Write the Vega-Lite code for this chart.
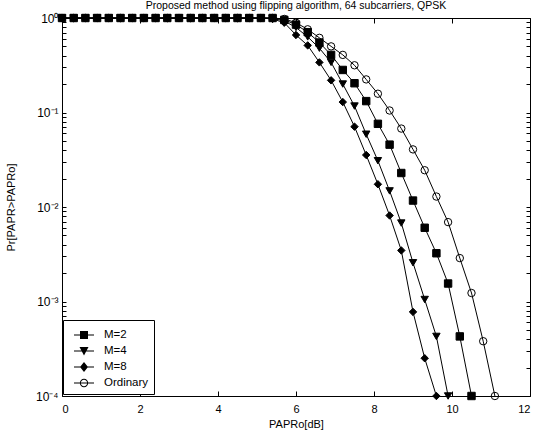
{
 "$schema": "https://vega.github.io/schema/vega-lite/v6.json",
 "width": 468,
 "height": 378,
 "autosize": "none",
 "padding": {"left": 62, "top": 18, "right": 6, "bottom": 40},
 "background": "white",
 "config": {
  "font": "Liberation Sans",
  "view": {"stroke": "black", "strokeWidth": 1},
  "axis": {"grid": false, "domain": false, "tickColor": "black", "labelColor": "black", "titleColor": "black", "labelFontSize": 11, "titleFontSize": 11, "titleFontWeight": "normal", "labelFont": "Liberation Sans", "titleFont": "Liberation Sans"}
 },
 "title": {"text": "Proposed method using flipping algorithm, 64 subcarriers, QPSK", "fontSize": 10.5, "fontWeight": "normal", "color": "black", "offset": 1, "font": "Liberation Sans"},
 "data": {"values": [
  {"x": 0, "M=2": 1, "M=4": 1, "M=8": 1, "Ordinary": 1},
  {"x": 0.3, "M=2": 1, "M=4": 1, "M=8": 1, "Ordinary": 1},
  {"x": 0.6, "M=2": 1, "M=4": 1, "M=8": 1, "Ordinary": 1},
  {"x": 0.9, "M=2": 1, "M=4": 1, "M=8": 1, "Ordinary": 1},
  {"x": 1.2, "M=2": 1, "M=4": 1, "M=8": 1, "Ordinary": 1},
  {"x": 1.5, "M=2": 1, "M=4": 1, "M=8": 1, "Ordinary": 1},
  {"x": 1.8, "M=2": 1, "M=4": 1, "M=8": 1, "Ordinary": 1},
  {"x": 2.1, "M=2": 1, "M=4": 1, "M=8": 1, "Ordinary": 1},
  {"x": 2.4, "M=2": 1, "M=4": 1, "M=8": 1, "Ordinary": 1},
  {"x": 2.7, "M=2": 1, "M=4": 1, "M=8": 1, "Ordinary": 1},
  {"x": 3.0, "M=2": 1, "M=4": 1, "M=8": 1, "Ordinary": 1},
  {"x": 3.3, "M=2": 1, "M=4": 1, "M=8": 1, "Ordinary": 1},
  {"x": 3.6, "M=2": 1, "M=4": 1, "M=8": 1, "Ordinary": 1},
  {"x": 3.9, "M=2": 1, "M=4": 1, "M=8": 1, "Ordinary": 1},
  {"x": 4.2, "M=2": 1, "M=4": 1, "M=8": 1, "Ordinary": 1},
  {"x": 4.5, "M=2": 1, "M=4": 1, "M=8": 1, "Ordinary": 1},
  {"x": 4.8, "M=2": 1, "M=4": 1, "M=8": 1, "Ordinary": 1},
  {"x": 5.1, "M=2": 1, "M=4": 1, "M=8": 1, "Ordinary": 1},
  {"x": 5.4, "M=2": 1, "M=4": 0.99, "M=8": 0.977, "Ordinary": 1},
  {"x": 5.7, "M=2": 0.955, "M=4": 0.93, "M=8": 0.891, "Ordinary": 0.977},
  {"x": 6.0, "M=2": 0.851, "M=4": 0.794, "M=8": 0.661, "Ordinary": 0.891},
  {"x": 6.3, "M=2": 0.708, "M=4": 0.631, "M=8": 0.513, "Ordinary": 0.759},
  {"x": 6.6, "M=2": 0.55, "M=4": 0.479, "M=8": 0.339, "Ordinary": 0.617},
  {"x": 6.9, "M=2": 0.407, "M=4": 0.339, "M=8": 0.219, "Ordinary": 0.501},
  {"x": 7.2, "M=2": 0.282, "M=4": 0.2, "M=8": 0.129, "Ordinary": 0.407},
  {"x": 7.5, "M=2": 0.204, "M=4": 0.117, "M=8": 0.0708, "Ordinary": 0.316},
  {"x": 7.8, "M=2": 0.132, "M=4": 0.0589, "M=8": 0.0355, "Ordinary": 0.224},
  {"x": 8.1, "M=2": 0.0759, "M=4": 0.0309, "M=8": 0.0174, "Ordinary": 0.158},
  {"x": 8.4, "M=2": 0.0457, "M=4": 0.0148, "M=8": 0.00813, "Ordinary": 0.105},
  {"x": 8.7, "M=2": 0.0229, "M=4": 0.00676, "M=8": 0.00347, "Ordinary": 0.0676},
  {"x": 9.0, "M=2": 0.0117, "M=4": 0.00257, "M=8": 0.000776, "Ordinary": 0.0407},
  {"x": 9.3, "M=2": 0.00603, "M=4": 0.00105, "M=8": 0.000251, "Ordinary": 0.0245},
  {"x": 9.6, "M=2": 0.00324, "M=4": 0.000427, "M=8": 0.0001, "Ordinary": 0.0129},
  {"x": 9.9, "M=2": 0.00155, "M=4": 0.0001, "Ordinary": 0.00692},
  {"x": 10.2, "M=2": 0.000427, "Ordinary": 0.00288},
  {"x": 10.5, "M=2": 0.0001, "Ordinary": 0.00123},
  {"x": 10.8, "Ordinary": 0.00038},
  {"x": 11.1, "Ordinary": 0.0001}
 ]},
 "transform": [
  {"fold": ["M=2", "M=4", "M=8", "Ordinary"], "as": ["series", "p"]},
  {"filter": "isValid(datum.p)"}
 ],
 "layer": [
  {
   "mark": {"type": "line", "color": "black", "strokeWidth": 1, "clip": false},
   "encoding": {
    "x": {"field": "x", "type": "quantitative", "scale": {"domain": [0, 12], "nice": false},
     "axis": {"orient": "bottom", "values": [0, 2, 4, 6, 8, 10, 12], "tickSize": -5, "labelPadding": 12, "title": "PAPRo[dB]", "titlePadding": 4}},
    "y": {"field": "p", "type": "quantitative", "scale": {"type": "log", "domain": [0.0001, 1], "nice": false},
     "axis": {"orient": "left", "values": [0.0001, 0.0002, 0.0003, 0.0004, 0.0005, 0.0006, 0.0007, 0.0008, 0.0009, 0.001, 0.002, 0.003, 0.004, 0.005, 0.006, 0.007, 0.008, 0.009, 0.01, 0.02, 0.03, 0.04, 0.05, 0.06, 0.07, 0.08, 0.09, 0.1, 0.2, 0.3, 0.4, 0.5, 0.6, 0.7, 0.8, 0.9, 1],
      "labelExpr": "datum.value == 1 ? '10⁰' : datum.value == 0.1 ? '10⁻¹' : datum.value == 0.01 ? '10⁻²' : datum.value == 0.001 ? '10⁻³' : datum.value == 0.0001 ? '10⁻⁴' : ''",
      "tickSize": -4, "labelPadding": 8, "labelBound": false, "labelOverlap": false, "labelFontSize": 12, "title": "Pr[PAPR>PAPRo]", "titlePadding": 19}},
    "detail": {"field": "series"}
   }
  },
  {
   "mark": {"type": "point", "filled": true, "stroke": "black", "strokeWidth": 1, "opacity": 1, "size": 55, "clip": false},
   "encoding": {
    "x": {"field": "x", "type": "quantitative", "axis": {"orient": "top", "values": [0, 2, 4, 6, 8, 10, 12], "tickSize": -5, "labels": false, "title": null}},
    "y": {"field": "p", "type": "quantitative", "axis": {"orient": "right", "values": [0.0001, 0.0002, 0.0003, 0.0004, 0.0005, 0.0006, 0.0007, 0.0008, 0.0009, 0.001, 0.002, 0.003, 0.004, 0.005, 0.006, 0.007, 0.008, 0.009, 0.01, 0.02, 0.03, 0.04, 0.05, 0.06, 0.07, 0.08, 0.09, 0.1, 0.2, 0.3, 0.4, 0.5, 0.6, 0.7, 0.8, 0.9, 1], "tickSize": -4, "labels": false, "title": null}},
    "shape": {"field": "series", "type": "nominal", "scale": {"domain": ["M=2", "M=4", "M=8", "Ordinary"], "range": ["square", "triangle-down", "diamond", "circle"]}, "legend": null},
    "fill": {"field": "series", "type": "nominal", "scale": {"domain": ["M=2", "M=4", "M=8", "Ordinary"], "range": ["black", "black", "black", "transparent"]}, "legend": null}
   }
  },
  {
   "transform": [{"filter": "datum.x < 0"}],
   "mark": {"type": "point", "filled": true, "color": "black", "strokeWidth": 0},
   "encoding": {
    "x": {"field": "x", "type": "quantitative", "axis": null},
    "y": {"field": "p", "type": "quantitative", "axis": null},
    "shape": {"field": "series", "type": "nominal",
     "scale": {"domain": ["M=2", "M=4", "M=8", "Ordinary"], "range": [
      "M-1,-0.05H1V0.05H-1ZM-0.4,-0.4H0.4V0.4H-0.4Z",
      "M-1,-0.05H1V0.05H-1ZM-0.45,-0.4H0.45L0,0.45Z",
      "M-1,-0.05H1V0.05H-1ZM0,-0.5L0.4,0L0,0.5L-0.4,0Z",
      "M-1,-0.05H1V0.05H-1ZM0.42,0L0.388,0.161L0.297,0.297L0.161,0.388L0,0.42L-0.161,0.388L-0.297,0.297L-0.388,0.161L-0.42,0L-0.388,-0.161L-0.297,-0.297L-0.161,-0.388L0,-0.42L0.161,-0.388L0.297,-0.297L0.388,-0.161ZM0.32,0L0.296,-0.122L0.226,-0.226L0.122,-0.296L0,-0.32L-0.122,-0.296L-0.226,-0.226L-0.296,-0.122L-0.32,0L-0.296,0.122L-0.226,0.226L-0.122,0.296L0,0.32L0.122,0.296L0.226,0.226L0.296,0.122Z"]},
     "legend": {"title": null, "orient": "none", "legendX": 1, "legendY": 302, "strokeColor": "black", "fillColor": "white", "padding": 5, "rowPadding": 0, "labelFontSize": 11.5, "labelFont": "Liberation Sans", "labelColor": "black", "symbolSize": 400, "symbolFillColor": "black", "symbolStrokeWidth": 0, "symbolOpacity": 1, "symbolOffset": 6, "labelOffset": 10}}
   }
  }
 ],
 "resolve": {"scale": {"shape": "independent"}, "axis": {"x": "independent", "y": "independent"}}
}
